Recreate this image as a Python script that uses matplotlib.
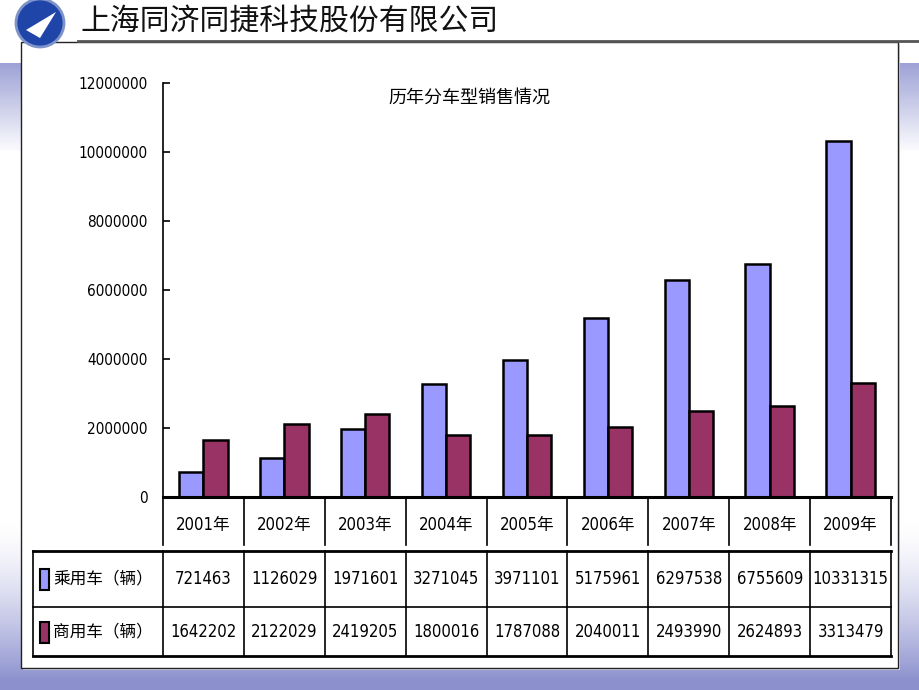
import numpy as np
import matplotlib.pyplot as plt
import matplotlib.transforms as mtransforms
from matplotlib import font_manager
from matplotlib.patches import Rectangle, Circle, Polygon
from matplotlib.ticker import FuncFormatter

plt.rcParams['font.family'] = ['Noto Sans CJK SC', 'DejaVu Sans']

# données
years = ['2001年', '2002年', '2003年', '2004年', '2005年', '2006年', '2007年', '2008年', '2009年']
passenger = [721463, 1126029, 1971601, 3271045, 3971101, 5175961, 6297538, 6755609, 10331315]
commercial = [1642202, 2122029, 2419205, 1800016, 1787088, 2040011, 2493990, 2624893, 3313479]
series_names = ['乘用车（辆）', '商用车（辆）']
series_colors = ['#9999FF', '#993366']
title = '历年分车型销售情况'
company = '上海同济同捷科技股份有限公司'

# police étroite pour les chiffres si disponible
fonts = font_manager.fontManager.ttflist
if any(f.name == 'Liberation Sans Narrow' for f in fonts):
    NUM = dict(family=['Liberation Sans Narrow', 'Noto Sans CJK SC'])
    sz_tick, sz_num, sz_year = 13, 14, 13
elif any(f.name == 'DejaVu Sans' and f.stretch == 'condensed' for f in fonts):
    NUM = dict(family=['DejaVu Sans', 'Noto Sans CJK SC'], stretch='condensed')
    sz_tick, sz_num, sz_year = 11, 12, 12
else:
    NUM = dict(family=['Noto Sans CJK SC', 'DejaVu Sans'])
    sz_tick, sz_num, sz_year = 11, 11.5, 12

W, H = 920, 690
fig = plt.figure(figsize=(W / 100, H / 100), dpi=100)

# fond de la diapositive (coordonnées en pixels)
bg = fig.add_axes([0, 0, 1, 1])
bg.axis('off')
yy = np.arange(H)[:, None]
blue = np.array([0.55, 0.57, 0.81])
band = np.where((yy >= 63) & (yy <= 150), np.clip(1 - (yy - 63) / 90.0, 0, 1) * 0.85, 0.0)
bottom = np.clip((yy - 520) / 160.0, 0, 1) ** 1.5
mix = np.maximum(band, bottom)
img = (1 - mix)[:, :, None] * np.ones(3) + mix[:, :, None] * blue
img = np.repeat(img, W, axis=1)
bg.imshow(img, extent=[0, W, H, 0], aspect='auto', zorder=0)
bg.set_xlim(0, W)
bg.set_ylim(H, 0)

# panneau blanc
bg.add_patch(Rectangle((23, 44), 877, 626, facecolor='#dcdce8', edgecolor='none', zorder=1))
bg.add_patch(Rectangle((21, 42), 877, 626, facecolor='white', edgecolor='#222222', lw=1.0, zorder=2))

# en-tête
bg.add_patch(Circle((40, 23), 24, facecolor='#1f45a8', edgecolor='#7d93c9', lw=2, zorder=3))
bg.add_patch(Polygon([[26, 30], [56, 12], [40, 38]], closed=True, facecolor='white', edgecolor='none', zorder=4))
bg.text(80, 21, company, fontsize=21.5, va='center', ha='left', color='#111111', zorder=5)
bg.plot([78, 920], [41, 41], color='#555555', lw=2, zorder=5)
bg.text(469, 98, title, fontsize=13, ha='center', va='center', zorder=5)

# graphique
ax = fig.add_axes([163 / W, 1 - 497 / H, (891 - 163) / W, (497 - 83) / H], zorder=3)
ax.patch.set_alpha(0)
x = np.arange(len(years))
bw = 0.3
ax.bar(x - bw / 2, passenger, bw, color=series_colors[0], edgecolor='black', lw=1.8)
ax.bar(x + bw / 2, commercial, bw, color=series_colors[1], edgecolor='black', lw=1.8)
ax.set_xlim(-0.5, len(years) - 0.5)
ax.set_ylim(0, 12000000)
ax.set_yticks(np.arange(0, 12000001, 2000000))
ax.yaxis.set_major_formatter(FuncFormatter(lambda v, p: '%d' % v))
ax.set_xticks([])
ax.tick_params(axis='y', direction='in', length=5, width=1.2, pad=11, labelsize=sz_tick)
for lab in ax.get_yticklabels():
    lab.set_family(NUM['family'])
    if 'stretch' in NUM:
        lab.set_stretch(NUM['stretch'])
for s in ['top', 'right']:
    ax.spines[s].set_visible(False)
ax.spines['left'].set_linewidth(1.2)
ax.spines['bottom'].set_linewidth(2.2)

# tableau de données sous l'axe
tr = mtransforms.blended_transform_factory(ax.transData, bg.transData)
for i in range(len(years) + 1):
    bg.plot([i - 0.5, i - 0.5], [497, 545], color='black', lw=1.2, transform=tr, clip_on=False, zorder=5)
    bg.plot([i - 0.5, i - 0.5], [551, 656], color='black', lw=1.2, transform=tr, clip_on=False, zorder=5)
for i, yr in enumerate(years):
    bg.text(i, 525, yr, fontsize=sz_year, ha='center', va='center', transform=tr, zorder=5, **NUM)

bg.plot([33, 891], [551, 551], color='black', lw=2, zorder=5)
bg.plot([33, 891], [607, 607], color='black', lw=1.2, zorder=5)
bg.plot([33, 891], [656, 656], color='black', lw=2, zorder=5)
bg.plot([33, 33], [551, 656], color='black', lw=1.2, zorder=5)

for r, (vals, name, c) in enumerate(zip([passenger, commercial], series_names, series_colors)):
    yc = 579 + r * 53
    bg.add_patch(Rectangle((40, yc - 10), 9, 21, facecolor=c, edgecolor='black', lw=1.5, zorder=5))
    bg.text(53, yc, name, fontsize=12, ha='left', va='center', zorder=5)
    for i, v in enumerate(vals):
        bg.text(i, yc, str(v), fontsize=sz_num, ha='center', va='center',
                transform=tr, zorder=5, **NUM)

fig.savefig('out.png', dpi=100)
